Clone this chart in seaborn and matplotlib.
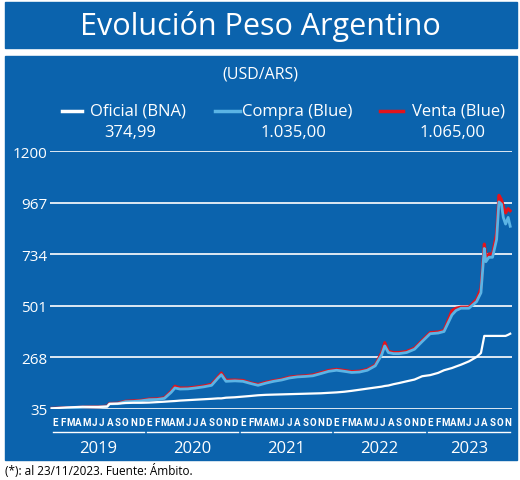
import matplotlib.pyplot as plt
import matplotlib.dates as mdates
from matplotlib.patches import Rectangle
from matplotlib.lines import Line2D
import pandas as pd
import seaborn as sb

#Data (ARS per USD)
dates = ["2019-01-01","2019-03-01","2019-05-01","2019-07-01","2019-08-05","2019-08-14","2019-09-15",
         "2019-10-15","2019-11-15","2019-12-15","2020-01-15","2020-02-15","2020-03-15","2020-04-10",
         "2020-04-25","2020-05-15","2020-06-15","2020-07-15","2020-08-15","2020-09-15","2020-10-10",
         "2020-10-23","2020-11-10","2020-12-15","2021-01-15","2021-02-15","2021-03-15","2021-04-15",
         "2021-05-15","2021-06-15","2021-07-15","2021-08-15","2021-09-15","2021-10-15","2021-11-15",
         "2021-12-15","2022-01-15","2022-02-15","2022-03-15","2022-04-15","2022-05-15","2022-06-15",
         "2022-07-10","2022-07-22","2022-08-05","2022-08-25","2022-09-15","2022-10-15","2022-11-15",
         "2022-12-15","2023-01-15","2023-02-15","2023-03-10","2023-04-10","2023-04-26","2023-05-15",
         "2023-06-15","2023-07-15","2023-08-01","2023-08-14","2023-08-20","2023-09-01","2023-09-15",
         "2023-10-01","2023-10-10","2023-10-20","2023-10-27","2023-11-05","2023-11-15","2023-11-23"]
oficial = [38,42,45,44,46,58,59,62,63,63,64,66,68,70,71,73,75,77,79,81,83,83,86,88,91,94,97,
           99,100,101,102,103,104,105,106,108,110,113,117,122,127,132,136,139,141,147,152,160,168,
           183,188,198,210,220,227,235,250,270,288,365,365,365,365,365,365,365,365,365,370,375]
compra = [37,39,42,44,46,58,59,68,69,72,77,78,83,110,130,125,126,130,135,142,175,190,160,162,
          160,150,142,152,160,166,175,180,182,185,195,205,210,205,200,202,210,230,280,320,290,285,
          285,290,305,340,375,378,385,460,480,490,490,520,560,760,700,720,720,800,970,960,900,870,900,860]
venta = [38,40,43,45,48,60,61,70,72,74,80,81,86,115,138,130,130,134,139,147,180,198,165,166,
         164,153,146,156,163,169,179,183,185,189,199,209,214,209,204,206,214,234,290,335,296,290,
         290,295,310,345,380,383,390,480,490,495,495,530,580,780,720,735,735,830,1000,980,950,920,940,930]

yTicks = [35,268,501,734,967,1200]
monthLetters = ["E","F","M","A","M","J","J","A","S","O","N","D"]
years = [2019,2020,2021,2022,2023]

df = pd.DataFrame({"date": pd.to_datetime(dates), "Oficial": oficial, "Compra": compra, "Venta": venta})

blue = "#0b63ad"
fig = plt.figure(figsize=(5.2,4.81), dpi=100)
fig.patch.set_facecolor("white")
plt.rcParams['font.family'] = ['Open Sans','DejaVu Sans']

def fy(py):
    return (481-py)/481

#Title box and main panel (behind the axes)
fig.patches.append(Rectangle((5/520,fy(49)), 512/520, 46/481, transform=fig.transFigure, color=blue, zorder=-5))
fig.patches.append(Rectangle((5/520,fy(461)), 512/520, (461-57)/481, transform=fig.transFigure, color=blue, zorder=-5))
fig.text(0.5,fy(26),"Evolución Peso Argentino", color="white", fontsize=22, ha="center", va="center")
fig.text(0.5,fy(75),"(USD/ARS)", color="white", fontsize=11.5, ha="center", va="center")
fig.text(0.01,fy(471),"(*): al 23/11/2023. Fuente: Ámbito.", color="black", fontsize=8.5, va="center")

#Legend drawn by hand: line x-range, label centre, value centre
legItems = [(62,82,138,130,"Oficial (BNA)","374,99","white"),
            (215,240,297,293,"Compra (Blue)","1.035,00","#5bb4e5"),
            (380,403,459,453,"Venta (Blue)","1.065,00","#e3141c")]
for x0, x1, xl, xv, lab, val, col in legItems:
    fig.add_artist(Line2D([x0/520,x1/520],[fy(112)]*2, color=col, lw=2.5, transform=fig.transFigure))
    fig.text(xl/520,fy(112),lab, color="white", fontsize=12, ha="center", va="center")
    fig.text(xv/520,fy(133),val, color="white", fontsize=12, ha="center", va="center")

ax = fig.add_axes([50/520,fy(410),462/520,258/481])
ax.patch.set_alpha(0)
sb.lineplot(data=df, x="date", y="Venta", color="#e3141c", lw=2.2, ax=ax)
sb.lineplot(data=df, x="date", y="Compra", color="#5bb4e5", lw=2.0, ax=ax)
sb.lineplot(data=df, x="date", y="Oficial", color="white", lw=1.6, ax=ax)

ax.set_ylim(35,1200)
ax.set_xlim(pd.Timestamp("2018-12-25"), pd.Timestamp("2023-11-30"))
ax.set_yticks(yTicks)
ax.set_yticklabels([str(t) for t in yTicks], color="white", fontsize=11)
for t in yTicks:
    ax.axhline(t, color="white", lw=1.2, zorder=0)
for sp in ax.spines.values():
    sp.set_visible(False)
ax.tick_params(axis="y", length=0, pad=2)
ax.tick_params(axis="x", length=0, pad=6)
ax.set_xlabel("")
ax.set_ylabel("")

#Month letters as tick labels
monthPos = pd.date_range("2019-01-01","2023-11-01", freq="MS") + pd.Timedelta(days=14)
ax.set_xticks(monthPos)
ax.set_xticklabels([monthLetters[d.month-1] for d in monthPos], color="white", fontsize=7, fontfamily="Roboto", fontweight="bold")

#Year lines and labels below the axis
trans = ax.get_xaxis_transform()
for y in years:
    start = mdates.date2num(pd.Timestamp(f"{y}-01-01"))
    end = mdates.date2num(pd.Timestamp(f"{y}-12-31") if y < 2023 else pd.Timestamp("2023-11-30"))
    ax.add_artist(Line2D([start+6,end-6],[-0.089,-0.089], color="white", lw=1, transform=trans, clip_on=False))
    ax.text((start+end)/2, -0.152, str(y), color="white", fontsize=12, ha="center", va="center", transform=trans)

plt.savefig("out.png", dpi=100)
